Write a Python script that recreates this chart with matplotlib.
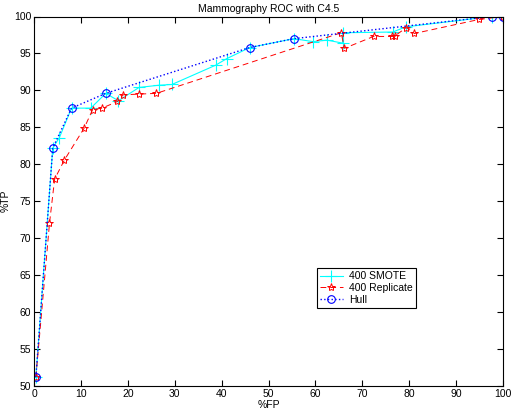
import matplotlib
matplotlib.use("Agg")
import matplotlib.pyplot as plt

plt.rcParams['font.family'] = ['Liberation Sans', 'DejaVu Sans']

# ROC points (%FP, %TP)
smote_fp = [0.4, 4.0, 5.4, 8.0, 12.1, 15.3, 18.0, 22.4, 26.6, 29.4, 38.7, 41.1,
            46.0, 55.4, 59.5, 62.5, 65.8, 65.8, 76.5, 79.3, 97.6, 100]
smote_tp = [51.2, 82.2, 83.6, 87.6, 87.6, 89.6, 88.6, 90.4, 90.7, 90.8, 93.4, 94.3,
            95.8, 97.0, 96.6, 96.8, 96.4, 97.8, 97.9, 98.6, 100, 100]

rep_fp = [0.4, 3.3, 4.4, 6.5, 10.7, 12.5, 14.5, 17.8, 19.0, 22.4, 26.1, 65.5,
          66.2, 72.4, 76.3, 77.0, 79.4, 81.1, 94.9, 100]
rep_tp = [51.2, 72.0, 78.0, 80.6, 84.9, 87.4, 87.6, 88.5, 89.4, 89.5, 89.6, 97.8,
          95.7, 97.3, 97.3, 97.4, 98.5, 97.7, 99.6, 100]

hull_fp = [0.4, 4.0, 8.0, 15.3, 46.0, 55.4, 97.6, 100]
hull_tp = [51.2, 82.2, 87.6, 89.6, 95.8, 97.0, 100, 100]

xticks = list(range(0, 101, 10))
yticks = list(range(50, 101, 5))

fig = plt.figure(figsize=(5.11, 4.12), dpi=100)
ax = fig.add_axes([34/511, 1-386/412, 469/511, 369.5/412])

ax.plot(smote_fp, smote_tp, color='cyan', linestyle='-', linewidth=0.8,
        marker='+', markersize=8, markeredgewidth=0.8, label='400 SMOTE')
ax.plot(rep_fp, rep_tp, color='red', linestyle='--', linewidth=0.7,
        dashes=(6, 4), marker='*', markersize=6, markerfacecolor='none',
        markeredgewidth=0.7, label='400 Replicate')
ax.plot(hull_fp, hull_tp, color='blue', linestyle=':', linewidth=1.0,
        marker='o', markersize=5.5, markerfacecolor='none', markeredgewidth=0.8,
        label='Hull')

ax.set_xlim(0, 100)
ax.set_ylim(50, 100)
ax.set_xticks(xticks)
ax.set_yticks(yticks)
ax.tick_params(direction='in', top=True, right=True, labelsize=7.5,
               length=4, width=0.8, pad=2)
for s in ax.spines.values():
    s.set_linewidth(0.8)

ax.set_title('Mammography ROC with C4.5', fontsize=7.5, pad=3)
ax.set_xlabel('%FP', fontsize=7.5, labelpad=1)
ax.set_ylabel('%TP', fontsize=7.5, labelpad=2)

leg = ax.legend(loc='upper left', bbox_to_anchor=(0.603, 0.3185),
                fontsize=7.5, fancybox=False, framealpha=1,
                edgecolor='black', borderpad=0.3, labelspacing=0.15,
                handlelength=2.2, handletextpad=0.6, borderaxespad=0)
leg.get_frame().set_linewidth(0.8)

plt.savefig("out.png", dpi=100)
plt.close()
